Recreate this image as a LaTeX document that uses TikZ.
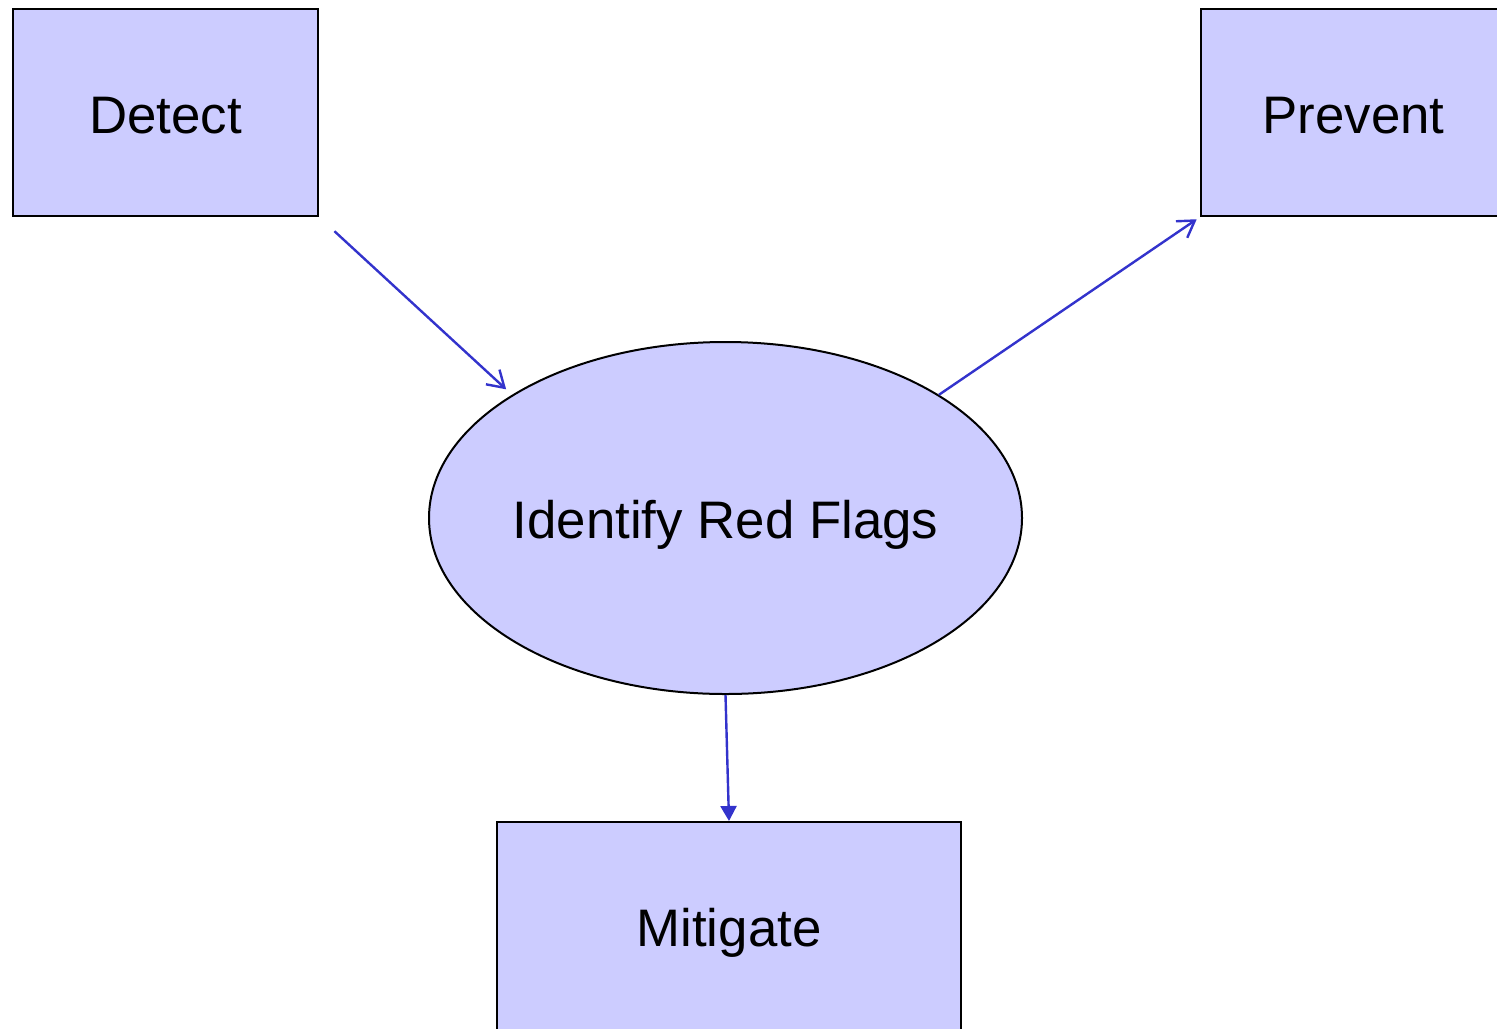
\documentclass[tikz,border=0pt]{standalone}
\usepackage{fontspec}
\setmainfont{Liberation Sans}
\usepackage{tikz}
\usetikzlibrary{shapes,arrows.meta,positioning}
\usepackage{xcolor}
\definecolor{flagfill}{RGB}{204,204,255}
\definecolor{flagline}{RGB}{51,51,204}
\tikzset{
    stagebox/.style={draw, line width=1pt, fill=flagfill, inner sep=0pt, text height=20.5pt, text depth=0pt, font=\fontsize{26.4}{32}\selectfont},
    flagflow/.style={line width=1.2pt, color=flagline},
    openhead/.style={-{Straight Barb[length=8pt,width=10pt]}},
}

\begin{document}
\begin{tikzpicture}[x=0.5pt, y=-0.5pt]
    \useasboundingbox (0,0) rectangle (1497,1028);
    \clip (0,0) rectangle (1497,1028);

    \node[stagebox, minimum width=152.5pt, minimum height=103.5pt] (detect) at (165.5,112.5) {Detect};
    \node[stagebox, minimum width=152.5pt, minimum height=103.5pt] (prevent) at (1353.5,112.5) {Prevent};
    \node[stagebox, ellipse, inner xsep=-30pt, minimum width=296.5pt, minimum height=176pt] (flags) at (725.5,518) {Identify Red Flags};
    \node[stagebox, text height=18pt, minimum width=232pt, minimum height=106pt] (mitigate) at (729,928) {Mitigate};

    \draw[flagflow, openhead, shorten <=10.5pt, shorten >=4pt] (detect.south east) -- (flags.150);
    \draw[flagflow, openhead, shorten >=2pt] (flags.30) -- (prevent.south west);
    \draw[flagflow, -{Triangle[length=7.5pt,width=8pt]}] (flags.south) -- (mitigate.north);
\end{tikzpicture}
\end{document}
